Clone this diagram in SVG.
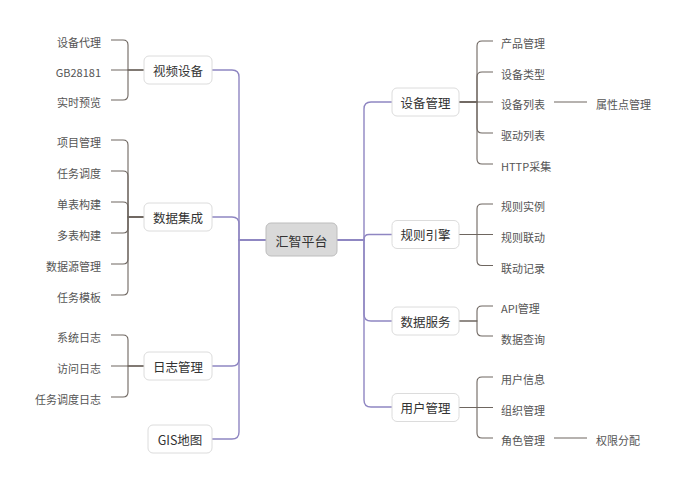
<svg xmlns="http://www.w3.org/2000/svg" width="685" height="480" viewBox="0 0 685 480">
<style>
.bg{fill:#ffffff}
.trunk{fill:none;stroke:#8f86c2;stroke-width:1.4}
.sub{fill:none;stroke:#6e6660;stroke-width:1.1}
.box{fill:#ffffff;stroke:#dcdcdc;stroke-width:1}
.root{fill:#d9d9d9;stroke:#bdbdbd;stroke-width:1}
.t{font-family:"Noto Sans CJK SC","Liberation Sans",sans-serif;dominant-baseline:central}
.main{font-size:12.5px;fill:#333333;text-anchor:middle}
.rootT{font-size:13px;fill:#333333;text-anchor:middle}
.leafL{font-size:11px;fill:#555555;text-anchor:end}
.leafR{font-size:11px;fill:#555555;text-anchor:start}
</style>
<rect class="bg" x="0" y="0" width="685" height="480"/>
<g id="connectors">
<!-- left main branches -->
<path class="trunk" d="M266 240H239V77Q239 70 232 70H212"/>
<path class="trunk" d="M266 240H239V224Q239 217 232 217H212"/>
<path class="trunk" d="M266 240H239V359Q239 366 232 366H212"/>
<path class="trunk" d="M266 240H239V432Q239 439 232 439H212"/>
<!-- right main branches -->
<path class="trunk" d="M337 240H364V109Q364 102 371 102H392"/>
<path class="trunk" d="M337 240H364V239.5Q364 234.5 369 234.5H392"/>
<path class="trunk" d="M337 240H364V314Q364 321 371 321H392"/>
<path class="trunk" d="M337 240H364V400Q364 407 371 407H392"/>
<!-- 视频设备 children -->
<path class="sub" d="M144 70H128V45Q128 40 123 40H111"/>
<path class="sub" d="M144 70H111"/>
<path class="sub" d="M144 70H128V95Q128 100 123 100H111"/>
<!-- 数据集成 children -->
<path class="sub" d="M144 217H128V145Q128 140 123 140H111"/>
<path class="sub" d="M144 217H128V176Q128 171 123 171H111"/>
<path class="sub" d="M144 217H128V207Q128 202 123 202H111"/>
<path class="sub" d="M144 217H128V228Q128 233 123 233H111"/>
<path class="sub" d="M144 217H128V259Q128 264 123 264H111"/>
<path class="sub" d="M144 217H128V290Q128 295 123 295H111"/>
<!-- 日志管理 children -->
<path class="sub" d="M144 366H128V340Q128 335 123 335H111"/>
<path class="sub" d="M144 366H111"/>
<path class="sub" d="M144 366H128V392Q128 397 123 397H111"/>
<!-- 设备管理 children -->
<path class="sub" d="M459 102H477V46Q477 41 482 41H493"/>
<path class="sub" d="M459 102H477V77Q477 72 482 72H493"/>
<path class="sub" d="M459 102H493"/>
<path class="sub" d="M459 102H477V128Q477 133 482 133H493"/>
<path class="sub" d="M459 102H477V159Q477 164 482 164H493"/>
<path class="sub" d="M554 102H587"/>
<!-- 规则引擎 children -->
<path class="sub" d="M459 234.5H477V209Q477 204 482 204H493"/>
<path class="sub" d="M459 234.5H493"/>
<path class="sub" d="M459 234.5H477V260.5Q477 265.5 482 265.5H493"/>
<!-- 数据服务 children -->
<path class="sub" d="M459 321H477V311Q477 306 482 306H493"/>
<path class="sub" d="M459 321H477V331Q477 336 482 336H493"/>
<!-- 用户管理 children -->
<path class="sub" d="M459 407.5H477V382Q477 377 482 377H493"/>
<path class="sub" d="M459 407.5H493"/>
<path class="sub" d="M459 407.5H477V433Q477 438 482 438H493"/>
<path class="sub" d="M554 438H587"/>
</g>
<g id="root">
<rect class="root" x="266" y="223" width="71" height="33" rx="5"/>
<text class="t rootT" x="301.5" y="240">汇智平台</text>
</g>
<g id="n-video">
<rect class="box" x="144" y="56" width="68" height="28" rx="5"/>
<text class="t main" x="178" y="70">视频设备</text>
</g>
<g id="n-video-leaves">
<text class="t leafL" x="101" y="42">设备代理</text>
<text class="t leafL" x="101" y="72">GB28181</text>
<text class="t leafL" x="101" y="102">实时预览</text>
</g>
<g id="n-data">
<rect class="box" x="144" y="203" width="68" height="28" rx="5"/>
<text class="t main" x="178" y="217">数据集成</text>
</g>
<g id="n-data-leaves">
<text class="t leafL" x="101" y="142">项目管理</text>
<text class="t leafL" x="101" y="173">任务调度</text>
<text class="t leafL" x="101" y="204">单表构建</text>
<text class="t leafL" x="101" y="235">多表构建</text>
<text class="t leafL" x="101" y="266">数据源管理</text>
<text class="t leafL" x="101" y="297">任务模板</text>
</g>
<g id="n-log">
<rect class="box" x="144" y="352" width="68" height="28" rx="5"/>
<text class="t main" x="178" y="366">日志管理</text>
</g>
<g id="n-log-leaves">
<text class="t leafL" x="101" y="337">系统日志</text>
<text class="t leafL" x="101" y="368">访问日志</text>
<text class="t leafL" x="101" y="399">任务调度日志</text>
</g>
<g id="n-gis">
<rect class="box" x="148" y="425" width="64" height="28" rx="5"/>
<text class="t main" x="180" y="439">GIS地图</text>
</g>
<g id="n-device">
<rect class="box" x="392" y="88" width="67" height="28" rx="5"/>
<text class="t main" x="425.5" y="102">设备管理</text>
</g>
<g id="n-device-leaves">
<text class="t leafR" x="501" y="43">产品管理</text>
<text class="t leafR" x="501" y="74">设备类型</text>
<text class="t leafR" x="501" y="104">设备列表</text>
<text class="t leafR" x="501" y="135">驱动列表</text>
<text class="t leafR" x="501" y="166">HTTP采集</text>
<text class="t leafR" x="596" y="104">属性点管理</text>
</g>
<g id="n-rule">
<rect class="box" x="392" y="220.5" width="67" height="28" rx="5"/>
<text class="t main" x="425.5" y="234.5">规则引擎</text>
</g>
<g id="n-rule-leaves">
<text class="t leafR" x="501" y="206">规则实例</text>
<text class="t leafR" x="501" y="237">规则联动</text>
<text class="t leafR" x="501" y="268">联动记录</text>
</g>
<g id="n-service">
<rect class="box" x="392" y="307" width="67" height="28" rx="5"/>
<text class="t main" x="425.5" y="321">数据服务</text>
</g>
<g id="n-service-leaves">
<text class="t leafR" x="501" y="308">API管理</text>
<text class="t leafR" x="501" y="339">数据查询</text>
</g>
<g id="n-user">
<rect class="box" x="392" y="393.5" width="67" height="28" rx="5"/>
<text class="t main" x="425.5" y="407.5">用户管理</text>
</g>
<g id="n-user-leaves">
<text class="t leafR" x="501" y="379">用户信息</text>
<text class="t leafR" x="501" y="410">组织管理</text>
<text class="t leafR" x="501" y="440">角色管理</text>
<text class="t leafR" x="596" y="440">权限分配</text>
</g>
</svg>
